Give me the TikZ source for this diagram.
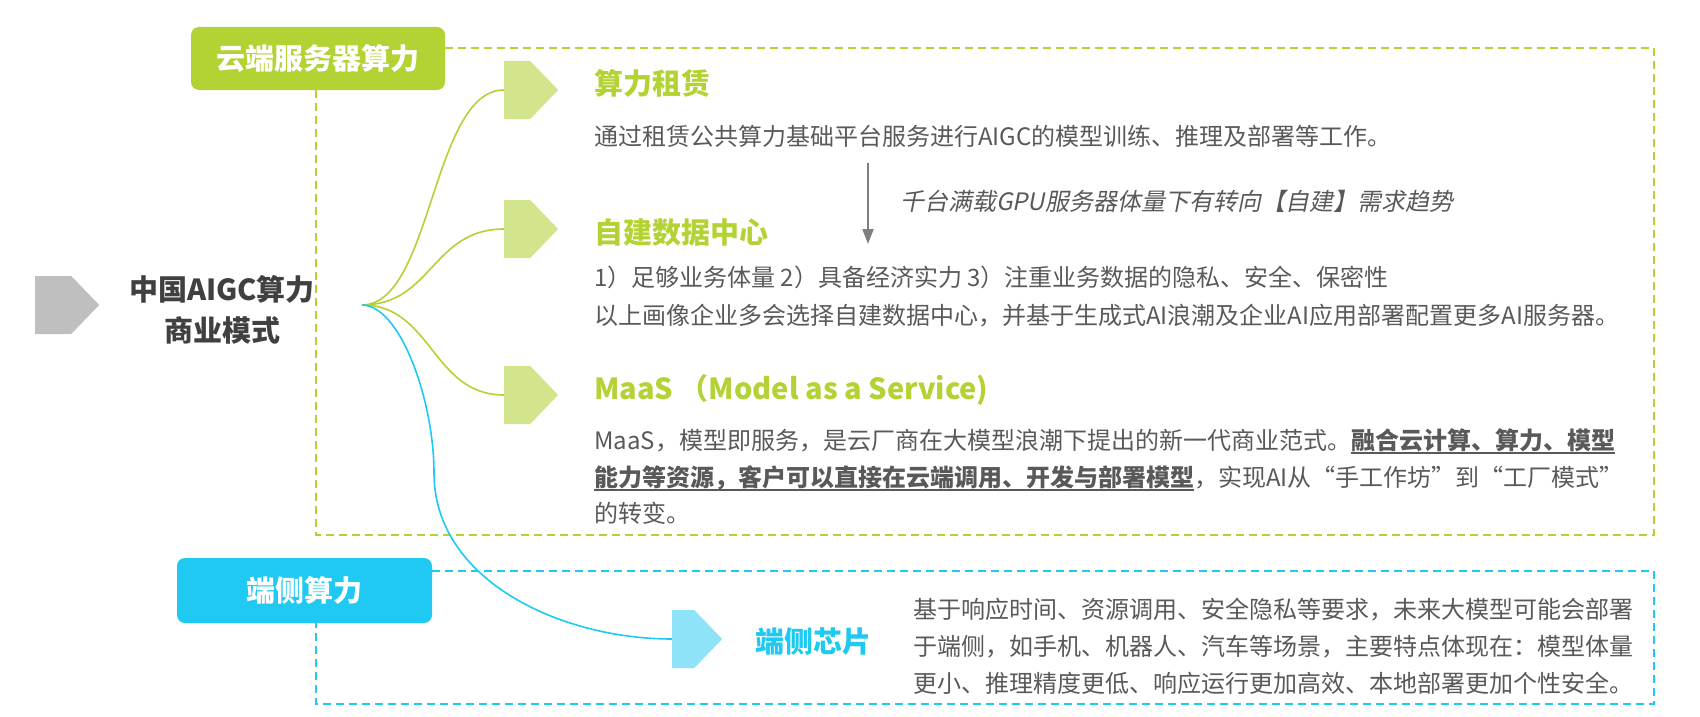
\documentclass[tikz,border=0pt]{standalone}
\usepackage{fontspec}
\setmainfont{Noto Sans CJK SC}
\newfontfamily\slantfont{Noto Sans CJK SC}[FakeSlant=0.2]
\usetikzlibrary{arrows.meta,shapes.symbols}
\definecolor{cgreen}{HTML}{B3D234}
\definecolor{lgreen}{HTML}{D3E58C}
\definecolor{cblue}{HTML}{1FC9F1}
\definecolor{lblue}{HTML}{8EE3F8}
\definecolor{txtgray}{HTML}{595959}
\definecolor{darkgray}{HTML}{404040}
\definecolor{taggray}{HTML}{BFBFBF}
\definecolor{arrgray}{HTML}{7F7F7F}
\newcommand\ulb[1]{\setbox0\hbox{\bfseries #1}\rlap{\rule[-4.5pt]{\wd0}{1.6pt}}\box0}
\begin{document}
\begin{tikzpicture}[x=1pt,y=-1pt,
  tagbox/.style={rounded corners=8pt, inner sep=0pt, text height=25pt, text depth=3pt,
    font=\fontsize{29}{34}\selectfont\bfseries, text=white},
  arrowtag/.style={signal, signal to=east, signal pointer angle=92, inner sep=0pt,
    minimum width=54pt, minimum height=58pt, draw=none, anchor=west},
  body/.style={anchor=base west, inner sep=0pt, text=txtgray, font=\fontsize{24}{30}\selectfont},
  head/.style={anchor=base west, inner sep=0pt, font=\fontsize{29}{34}\selectfont\bfseries},
  gdash/.style={draw=cgreen, line width=2pt, dash pattern=on 8pt off 5pt},
  bdash/.style={draw=cblue, line width=2pt, dash pattern=on 8pt off 5pt},
  gcurve/.style={draw=cgreen, line width=1.6pt},
  bcurve/.style={draw=cblue, line width=1.6pt},
  downarrow/.style={draw=arrgray, line width=2pt, -{Triangle[length=15pt,width=11pt]}}]
\useasboundingbox (0,0) rectangle (1700,717);

% dashed frames
\node[tagbox, fill=cgreen, minimum width=254pt, minimum height=63pt] (cloud) at (318,58.5) {云端服务器算力};
\node[tagbox, fill=cblue, minimum width=255pt, minimum height=65pt] (edge) at (304.5,590.5) {端侧算力};
\draw[gdash] (cloud.east |- 0,48) -- (1654,48) -- (1654,535) -- (316,535) -- (cloud.south -| 316,0);
\draw[bdash] (edge.east |- 0,571) -- (1654,571) -- (1654,704) -- (316,704) -- (edge.south -| 316,0);

% main topic
\node[arrowtag, fill=taggray, minimum width=64pt] (mainarrow) at (35,305) {};
\node[align=center, inner sep=0pt, text=darkgray, font=\fontsize{29}{41}\selectfont\bfseries] (main) at (222,310) {中国AIGC算力\\商业模式};
\coordinate (hub) at (362,305);

% tags
\node[arrowtag, fill=lgreen] (t1) at (504,90) {};
\node[arrowtag, fill=lgreen] (t2) at (504,229) {};
\node[arrowtag, fill=lgreen] (t3) at (504,395) {};
\node[arrowtag, fill=lblue, minimum width=50pt] (t4) at (672,639) {};

% connectors
\draw[gcurve] (hub) .. controls (432,305) and (432,90) .. (t1.west);
\draw[gcurve] (hub) .. controls (432,305) and (432,229) .. (t2.west);
\draw[gcurve] (hub) .. controls (432,305) and (432,395) .. (t3.west);
\draw[bcurve] (hub) .. controls (400,305) and (434,400) .. (434,473) .. controls (434,580) and (560,639) .. (t4.west);

% section 1
\node[head, text=cgreen] (h1) at (594,95) {算力租赁};
\node[body] (p1) at (594,145) {通过租赁公共算力基础平台服务进行AIGC的模型训练、推理及部署等工作。};
\coordinate (dA) at (868,163);
\coordinate (dB) at (868,244);
\draw[downarrow] (dA) -- (dB);
\node[body, font=\slantfont\fontsize{24}{30}\selectfont] (trend) at (900,210) {千台满载GPU服务器体量下有转向【自建】需求趋势};

% section 2
\node[head, text=cgreen] (h2) at (594,243) {自建数据中心};
\node[body] (p2a) at (594,286) {1）足够业务体量 2）具备经济实力 3）注重业务数据的隐私、安全、保密性};
\node[body] (p2b) at (594,324) {以上画像企业多会选择自建数据中心，并基于生成式AI浪潮及企业AI应用部署配置更多AI服务器。};

% section 3
\node[head, text=cgreen] (h3) at (594,399) {MaaS （Model as a Service)};
\node[body] (p3a) at (594,449) {MaaS，模型即服务，是云厂商在大模型浪潮下提出的新一代商业范式。\ulb{融合云计算、算力、模型}};
\node[body] (p3b) at (594,486) {\ulb{能力等资源，客户可以直接在云端调用、开发与部署模型}，实现AI从“手工作坊”到“工厂模式”};
\node[body] (p3c) at (594,522) {的转变。};

% section 4
\node[head, text=cblue] (h4) at (755,652) {端侧芯片};
\node[body] (p4a) at (913,618) {基于响应时间、资源调用、安全隐私等要求，未来大模型可能会部署};
\node[body] (p4b) at (913,655) {于端侧，如手机、机器人、汽车等场景，主要特点体现在：模型体量};
\node[body] (p4c) at (913,692) {更小、推理精度更低、响应运行更加高效、本地部署更加个性安全。};
\end{tikzpicture}
\end{document}
